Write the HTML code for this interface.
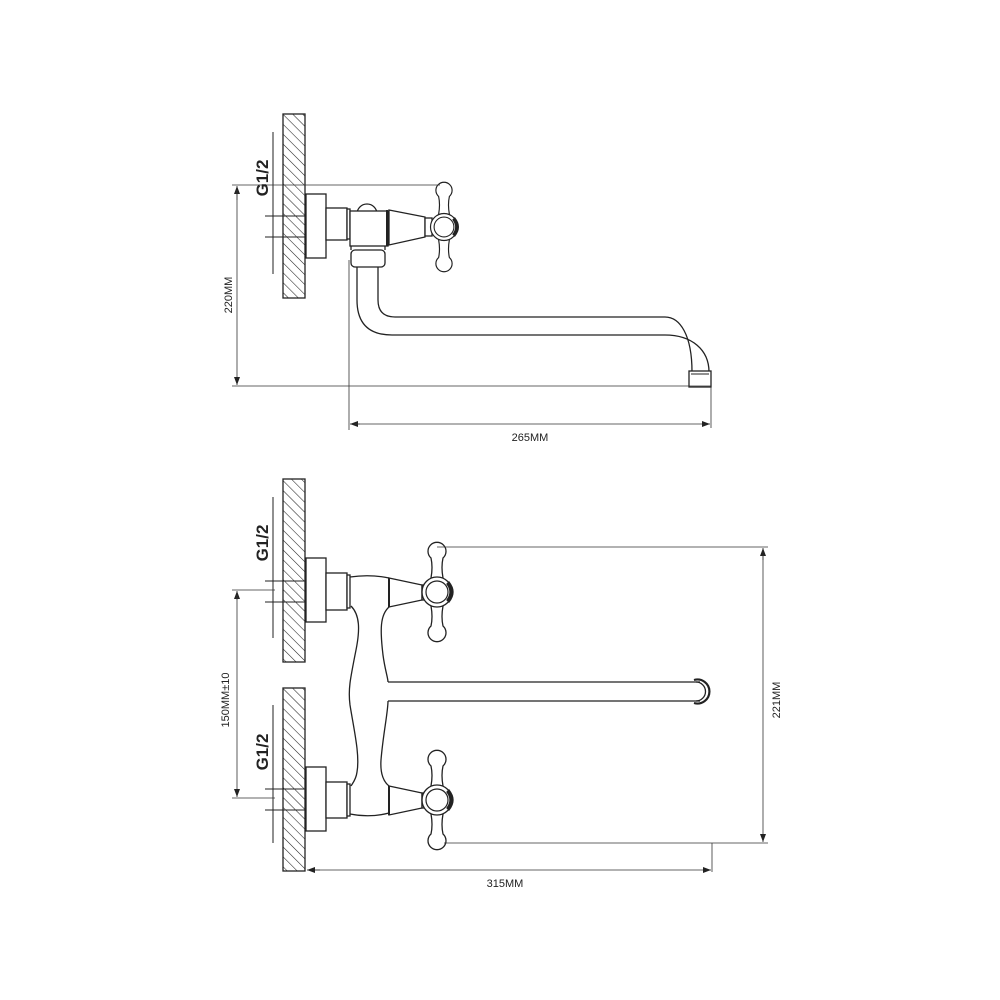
<!DOCTYPE html>
<html><head><meta charset="utf-8"><style>html,body{margin:0;padding:0;background:#fff}svg{display:block}</style></head>
<body>
<svg width="1000" height="1000" viewBox="0 0 1000 1000" xmlns="http://www.w3.org/2000/svg" font-family="Liberation Sans, sans-serif">
<defs>
<pattern id="h" patternUnits="userSpaceOnUse" width="7" height="7" patternTransform="rotate(-45)">
<line x1="0" y1="0" x2="0" y2="7" stroke="#222" stroke-width="1.1"/>
</pattern>
<marker id="a" markerWidth="8" markerHeight="6" refX="8" refY="3" orient="auto" markerUnits="userSpaceOnUse"><path d="M0,0 L8,3 L0,6 z" fill="#222"/></marker>
<g id="handle">
<path d="M-6,-34 a9,9 0 1 1 12,0 Q 4,-25 6,-14 L-6,-14 Q -4,-25 -6,-34 z" fill="#fff" stroke="#222" stroke-width="1.3"/>
<path d="M-6,34 a9,9 0 1 0 12,0 Q 4,25 6,14 L-6,14 Q -4,25 -6,34 z" fill="#fff" stroke="#222" stroke-width="1.3"/>
<circle cx="0" cy="0" r="15" fill="#fff" stroke="#222" stroke-width="1.3"/>
<circle cx="0" cy="0" r="11" fill="#fff" stroke="#222" stroke-width="1.2"/>
<path d="M12,-10 Q 20,0 12,10 L 10,8 Q 16,0 10,-8 z" fill="#222"/>
</g>
</defs>
<g fill="none" stroke="#222" stroke-width="1.3">
<!-- TOP VIEW -->
<rect x="283" y="114" width="22" height="184" fill="url(#h)"/>
<line x1="273" y1="132" x2="273" y2="274" stroke-width="1"/>
<line x1="265" y1="216" x2="305" y2="216" stroke-width="1"/>
<line x1="265" y1="237" x2="305" y2="237" stroke-width="1"/>
<rect x="306" y="194" width="20" height="64" fill="#fff"/>
<rect x="326" y="208" width="21" height="32" fill="#fff"/>
<rect x="347" y="209" width="3" height="30" fill="#fff"/>
<!-- spout -->
<path d="M357,267 L357,300 Q357,335 392,335 L665,335 C692,335 709,350 709,372" />
<path d="M378,267 L378,300 Q378,317 395,317 L665,317 C680,317 692,335 692,372"/>
<rect x="689" y="371" width="22" height="16" fill="#fff"/>
<line x1="691" y1="374" x2="709" y2="374" stroke-width="1"/>
<rect x="351" y="250" width="34" height="17" rx="4" fill="#fff"/>
<circle cx="367" cy="214" r="10" fill="#fff"/>
<rect x="350" y="211" width="38" height="35" fill="#fff"/>
<line x1="351" y1="246" x2="351" y2="250"/><line x1="385" y1="246" x2="385" y2="250"/>
<path d="M389,210 L425,217 L425,237 L389,245 z" fill="#fff"/>
<line x1="387" y1="210" x2="387" y2="246" stroke-width="2"/>
<rect x="425" y="218" width="7" height="18" fill="#fff"/>
<use href="#handle" transform="translate(444,227) scale(0.9)"/>
<!-- dims top -->
<g stroke-width="0.8" stroke="#333">
<line x1="232" y1="185" x2="440" y2="185"/>
<line x1="232" y1="386" x2="711" y2="386"/>
<line x1="237" y1="200" x2="237" y2="186" marker-end="url(#a)"/>
<line x1="237" y1="190" x2="237" y2="385" marker-end="url(#a)"/>
<line x1="349" y1="260" x2="349" y2="430"/>
<line x1="711" y1="387" x2="711" y2="428"/>
<line x1="360" y1="424" x2="350" y2="424" marker-end="url(#a)"/>
<line x1="355" y1="424" x2="710" y2="424" marker-end="url(#a)"/>
</g>
<!-- BOTTOM VIEW -->
<rect x="283" y="479" width="22" height="183" fill="url(#h)"/>
<rect x="283" y="688" width="22" height="183" fill="url(#h)"/>
<line x1="273" y1="497" x2="273" y2="638" stroke-width="1"/>
<line x1="273" y1="705" x2="273" y2="843" stroke-width="1"/>
<line x1="265" y1="581" x2="305" y2="581" stroke-width="1"/>
<line x1="265" y1="602" x2="305" y2="602" stroke-width="1"/>
<line x1="265" y1="789" x2="305" y2="789" stroke-width="1"/>
<line x1="265" y1="810" x2="305" y2="810" stroke-width="1"/>
<rect x="306" y="558" width="20" height="64" fill="#fff"/>
<rect x="306" y="767" width="20" height="64" fill="#fff"/>
<rect x="326" y="573" width="21" height="37" fill="#fff"/>
<rect x="326" y="782" width="21" height="36" fill="#fff"/>
<rect x="347" y="575" width="3" height="33" fill="#fff"/>
<rect x="347" y="784" width="3" height="32" fill="#fff"/>
<!-- spout bar -->
<line x1="388" y1="682" x2="700" y2="682"/>
<line x1="388" y1="701" x2="700" y2="701"/>
<path d="M696,682 A9.5,9.5 0 1 1 696,701"/>
<path d="M694,680 A12,12 0 1 1 694,703" stroke-width="2.2"/>
<!-- body -->
<path d="M350,577 Q370,574 389,578"/>
<path d="M350,814 Q370,818 389,813"/>
<path d="M351,606 C360,615 360,630 356,650 C350,680 348,690 350,705 C354,730 360,755 357,772 C356,780 352,784 351,786"/>
<path d="M389,607 C380,615 380,630 383,655 C385,670 388,678 388,682"/>
<path d="M388,701 C388,712 383,735 381,760 C380,775 384,782 389,786"/>
<path d="M389,578 L422,585 L422,600 L389,607 z" fill="#fff"/>
<path d="M389,786 L422,793 L422,808 L389,815 z" fill="#fff"/>
<line x1="389" y1="578" x2="389" y2="607" stroke-width="2"/>
<line x1="389" y1="786" x2="389" y2="815" stroke-width="2"/>
<rect x="422" y="585" width="7" height="15" fill="#fff"/>
<rect x="422" y="793" width="7" height="15" fill="#fff"/>
<use href="#handle" transform="translate(437,592)"/>
<use href="#handle" transform="translate(437,800)"/>
<!-- dims bottom -->
<g stroke-width="0.8" stroke="#333">
<line x1="437" y1="547" x2="768" y2="547"/>
<line x1="444" y1="843" x2="768" y2="843"/>
<line x1="763" y1="560" x2="763" y2="548" marker-end="url(#a)"/>
<line x1="763" y1="555" x2="763" y2="842" marker-end="url(#a)"/>
<line x1="232" y1="590" x2="275" y2="590"/>
<line x1="232" y1="798" x2="275" y2="798"/>
<line x1="237" y1="600" x2="237" y2="591" marker-end="url(#a)"/>
<line x1="237" y1="595" x2="237" y2="797" marker-end="url(#a)"/>
<line x1="712" y1="843" x2="712" y2="872"/>
<line x1="320" y1="870" x2="307" y2="870" marker-end="url(#a)"/>
<line x1="315" y1="870" x2="711" y2="870" marker-end="url(#a)"/>
</g>
</g>
<g fill="#222">
<text x="0" y="0" font-size="17" font-weight="bold" text-anchor="middle" transform="translate(268,178) rotate(-90)">G1/2</text>
<text x="0" y="0" font-size="17" font-weight="bold" text-anchor="middle" transform="translate(268,543) rotate(-90)">G1/2</text>
<text x="0" y="0" font-size="17" font-weight="bold" text-anchor="middle" transform="translate(268,752) rotate(-90)">G1/2</text>
<text x="0" y="0" font-size="11" text-anchor="middle" transform="translate(232,295) rotate(-90)">220MM</text>
<text x="0" y="0" font-size="11" text-anchor="middle" transform="translate(229,700) rotate(-90)">150MM±10</text>
<text x="0" y="0" font-size="11" text-anchor="middle" transform="translate(780,700) rotate(-90)">221MM</text>
<text x="530" y="441" font-size="11" text-anchor="middle">265MM</text>
<text x="505" y="887" font-size="11" text-anchor="middle">315MM</text>
</g>
</svg>
</body></html>
